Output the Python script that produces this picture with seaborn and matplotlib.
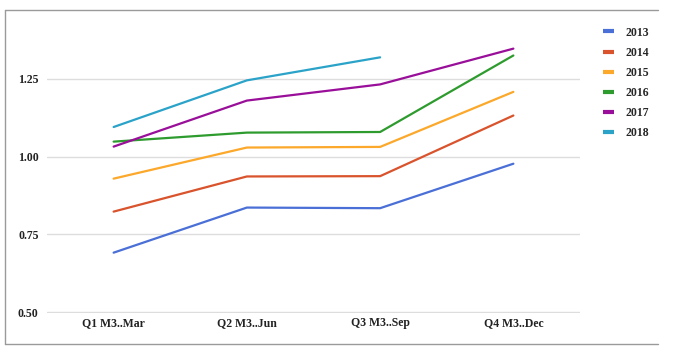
import matplotlib
matplotlib.use("Agg")
import matplotlib.pyplot as plt
import seaborn as sns
import pandas as pd
from matplotlib.lines import Line2D

quarters = ["Q1 M3..Mar", "Q2 M3..Jun", "Q3 M3..Sep", "Q4 M3..Dec"]
years = ["2013", "2014", "2015", "2016", "2017", "2018"]
v2013 = [0.691, 0.836, 0.834, 0.977]
v2014 = [0.823, 0.936, 0.937, 1.132]
v2015 = [0.929, 1.029, 1.031, 1.208]
v2016 = [1.048, 1.077, 1.079, 1.325]
v2017 = [1.032, 1.180, 1.232, 1.347]
v2018 = [1.095, 1.245, 1.319, None]
colors = ["#4a6fd6", "#d9532c", "#fba82b", "#2e9b2e", "#990f99", "#2ba3c9"]

rows = []
for yr, vals in zip(years, [v2013, v2014, v2015, v2016, v2017, v2018]):
    for i, (q, v) in enumerate(zip(quarters, vals)):
        if v is not None:
            rows.append({"x": i, "quarter": q, "year": yr, "value": v})
df = pd.DataFrame(rows)

sns.set_style("white")
plt.rcParams["font.family"] = ["Liberation Serif", "DejaVu Serif"]

fig = plt.figure(figsize=(6.73, 3.53), dpi=100, facecolor="white")
ax = fig.add_axes([47 / 673, 40 / 353, 533 / 673, 296.4 / 353])

sns.lineplot(data=df, x="x", y="value", hue="year", palette=colors,
             linewidth=1.6, ax=ax, legend=False)

ax.set_xlim(-0.5, 3.5)
ax.set_ylim(0.497, 1.45)
ax.set_yticks([0.5, 0.75, 1.0, 1.25])
ax.set_yticklabels(["0.50", "0.75", "1.00", "1.25"])
ax.set_xticks(range(4))
ax.set_xticklabels(quarters)
ax.tick_params(axis="both", length=0, labelsize=8.5, colors="#222222")
ax.tick_params(axis="y", pad=6)
ax.tick_params(axis="x", pad=3)
for lab in ax.get_xticklabels() + ax.get_yticklabels():
    lab.set_fontweight("bold")
ax.yaxis.grid(True, color="#dddddd", linewidth=1)
ax.set_axisbelow(True)
for s in ax.spines.values():
    s.set_visible(False)
ax.set_xlabel("")
ax.set_ylabel("")

handles = [Line2D([0], [0], color=c, linewidth=3, solid_capstyle="butt") for c in colors]
leg = fig.legend(handles, years, loc="upper left", bbox_to_anchor=(592 / 673, 1 - 16 / 353),
                 frameon=False, handlelength=1.0, handletextpad=0.9, labelspacing=0.68,
                 prop={"size": 8.5, "weight": "bold"})

# outer frame (left, top, bottom)
fx0, fx1 = 5 / 673, 658 / 673
fy0, fy1 = 1 - 344 / 353, 1 - 10 / 353
for xs, ys in [([fx0, fx0], [fy0, fy1]), ([fx0, fx1], [fy1, fy1]), ([fx0, fx1], [fy0, fy0])]:
    fig.add_artist(Line2D(xs, ys, color="#9a9a9a", linewidth=1.0, transform=fig.transFigure))

fig.savefig("out.png", dpi=100, facecolor="white")
